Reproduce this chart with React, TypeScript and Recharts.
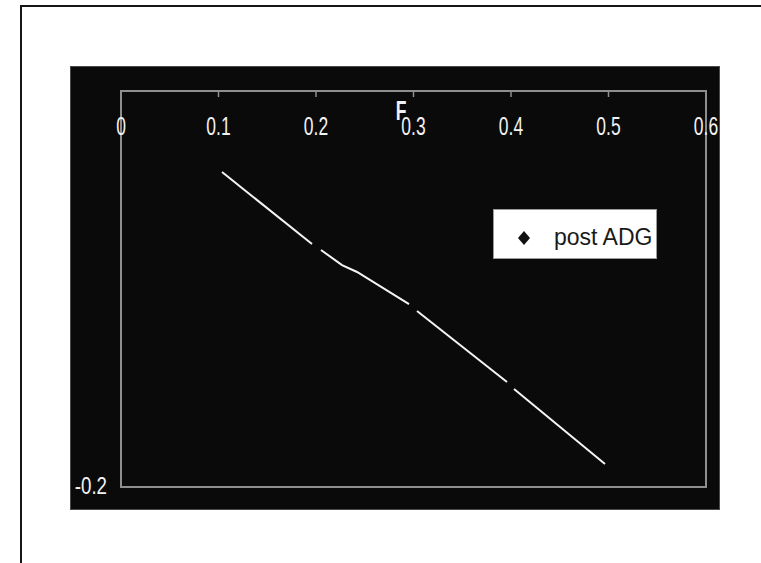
import React from 'react';
import { ComposedChart, Line, XAxis, YAxis, ReferenceArea, Legend } from 'recharts';

const xTicks = [0, 0.1, 0.2, 0.3, 0.4, 0.5, 0.6];
const xTickLabels = ['0', '0.1', '0.2', '0.3', '0.4', '0.5', '0.6'];
const yTicks = [-0.2];
const yTickLabels = ['-0.2'];
const seriesName = 'post ADG';
const axisTitle = 'F';

const segA = [
  { x: 0.1036, y: -0.0409 },
  { x: 0.1959, y: -0.0773 },
];
const segB = [
  { x: 0.2051, y: -0.0803 },
  { x: 0.2267, y: -0.0879 },
  { x: 0.2421, y: -0.0914 },
  { x: 0.2954, y: -0.1076 },
];
const segC = [
  { x: 0.3036, y: -0.1111 },
  { x: 0.3959, y: -0.147 },
];
const segD = [
  { x: 0.4031, y: -0.1505 },
  { x: 0.4964, y: -0.1884 },
];

const FONT = '"Liberation Sans", Arial, Helvetica, sans-serif';
const AXIS = '#8e8e8e';
const TEXT = '#f2f2f2';

const XTick = (props: any) => {
  const { x, payload } = props;
  const i = xTicks.indexOf(payload.value);
  return (
    <text
      transform={`translate(${x},135) scale(0.7,1)`}
      textAnchor="middle"
      fill={TEXT}
      fontSize={25}
      fontFamily={FONT}
    >
      {xTickLabels[i]}
    </text>
  );
};

const YTick = (props: any) => {
  const { x, y, payload } = props;
  const i = yTicks.indexOf(payload.value);
  return (
    <text
      transform={`translate(${x},${y + 7}) scale(0.78,1)`}
      textAnchor="end"
      fill={TEXT}
      fontSize={24}
      fontFamily={FONT}
    >
      {yTickLabels[i]}
    </text>
  );
};

const AxisTitle = () => (
  <text
    transform="translate(401,120) scale(0.65,1)"
    textAnchor="middle"
    fill={TEXT}
    fontSize={27}
    fontWeight="bold"
    fontFamily={FONT}
  >
    {axisTitle}
  </text>
);

const LegendBox = () => (
  <svg width={164} height={50} style={{ display: 'block' }}>
    <rect x={0.5} y={0.5} width={163} height={49} fill="#ffffff" stroke="#9a9a9a" />
    <path d="M31 22 L37 29 L31 36 L25 29 Z" fill="#111111" />
    <text x={61} y={36} fontSize={23} fontFamily={FONT} fill="#1a1a1a">
      {seriesName}
    </text>
  </svg>
);

const lineProps = {
  dataKey: 'y',
  stroke: '#f4f4f4',
  strokeWidth: 2,
  dot: false,
  activeDot: false,
  isAnimationActive: false,
  type: 'linear' as const,
};

export default function App() {
  return (
    <div style={{ position: 'absolute', left: 0, top: 0, width: 761, height: 563, background: '#ffffff', overflow: 'hidden' }}>
      <div style={{ position: 'absolute', left: 20, top: 5, width: 800, height: 600, borderTop: '2px solid #161616', borderLeft: '2px solid #161616' }} />
      <div style={{ position: 'absolute', left: 70, top: 66, width: 650, height: 444, background: '#0a0a0a', boxSizing: 'border-box', border: '1px solid #4a4a4a' }} />
      <div style={{ position: 'absolute', left: 0, top: 0 }}>
        <ComposedChart width={761} height={563} margin={{ top: 91, left: 61, right: 55, bottom: 76 }}>
          <XAxis
            type="number"
            dataKey="x"
            orientation="top"
            mirror
            domain={[0, 0.6]}
            ticks={xTicks}
            interval={0}
            tick={<XTick />}
            tickSize={6}
            axisLine={{ stroke: AXIS, strokeWidth: 2 }}
            tickLine={{ stroke: AXIS, strokeWidth: 1.5 }}
            label={<AxisTitle />}
            allowDataOverflow
          />
          <YAxis
            type="number"
            dataKey="y"
            domain={[-0.2, 0]}
            ticks={yTicks}
            width={60}
            tick={<YTick />}
            tickSize={0}
            tickMargin={14}
            tickLine={false}
            axisLine={{ stroke: AXIS, strokeWidth: 2 }}
            allowDataOverflow
          />
          <ReferenceArea x1={0} x2={0.6} y1={-0.2} y2={0} fill="none" stroke={AXIS} strokeWidth={2} />
          <Line data={segA} name={seriesName} {...lineProps} />
          <Line data={segB} name={seriesName + ' b'} {...lineProps} legendType="none" />
          <Line data={segC} name={seriesName + ' c'} {...lineProps} legendType="none" />
          <Line data={segD} name={seriesName + ' d'} {...lineProps} legendType="none" />
          <Legend
            layout="horizontal"
            verticalAlign="middle"
            align="center"
            content={<LegendBox />}
            wrapperStyle={{ left: 493, top: 209, width: 164, height: 50, right: 'auto', bottom: 'auto' }}
          />
        </ComposedChart>
      </div>
    </div>
  );
}
